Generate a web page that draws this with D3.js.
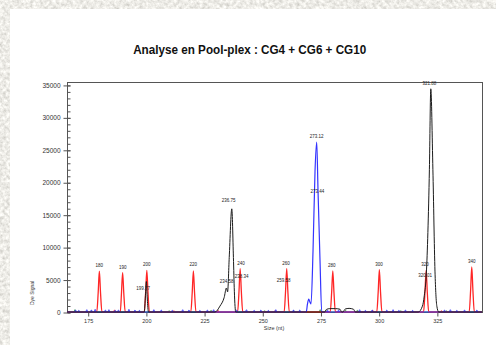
<!DOCTYPE html>
<html>
<head>
<meta charset="utf-8">
<script src="https://cdn.jsdelivr.net/npm/d3@7"></script>
<style>
  html, body { margin: 0; padding: 0; background: #d8d5ce; }
  svg { display: block; font-family: Arial, 'Liberation Sans', sans-serif; }
</style>
</head>
<body>
<div id="chart"></div>
<script>
// Electropherogram: size (nt) vs dye signal, one trace per dye colour
const title = 'Analyse en Pool-plex : CG4 + CG6 + CG10';
const sizeTicks = [175, 200, 225, 250, 275, 300, 325];
const signalTicks = [0, 5000, 10000, 15000, 20000, 25000, 30000, 35000];
const signalMinorTicks = d3.range(0, 35001, 1000);

// [size, signal] points
const redTrace = [
  [166.1, 0],
  [178.9, 0], [179.5, 3000], [180.0, 6280], [180.5, 3000], [181.1, 0],
  [189.0, 0], [189.5, 2900], [190.0, 6080], [190.5, 2900], [191.1, 0],
  [199.3, 0], [199.9, 3100], [200.4, 6430], [200.9, 3000], [201.5, 0],
  [219.3, 0], [219.9, 3000], [220.4, 6330], [220.9, 3000], [221.5, 0],
  [239.4, 0], [240.0, 3200], [240.5, 6700], [241.0, 3200], [241.6, 0],
  [259.4, 0], [260.0, 3200], [260.5, 6700], [261.0, 3100], [261.6, 0],
  [279.2, 0], [279.8, 3000], [280.3, 6330], [280.8, 3000], [281.4, 0],
  [299.2, 0], [299.8, 3100], [300.3, 6540], [300.8, 3100], [301.4, 0],
  [319.3, 0], [319.9, 3100], [320.4, 6430], [320.9, 3000], [321.5, 0],
  [338.9, 0], [339.5, 3300], [340.0, 6950], [340.5, 3300], [341.1, 0],
  [344.4, 0],
];

const blueTrace = [
  [166.1, 0], [268.9, 0], [269.4, 1200], [269.95, 2000], [270.5, 1500],
  [270.94, 1230], [271.8, 9400], [272.66, 21700], [273.39, 26200],
  [273.95, 18650], [274.81, 7860], [275.54, 0], [344.4, 0],
];

const blackTrace = [
  [166.1, 0],
  [199.3, 0], [199.8, 2500], [200.2, 4700], [200.6, 2000], [201.1, 0],
  [229.7, 0], [231.8, 900], [233.6, 2200], [234.6, 3700], [235.1, 3100],
  [235.8, 8400], [236.9, 15900], [237.6, 8400], [238.0, 3200], [238.6, 0],
  [276.8, 0], [277.6, 400], [279.0, 520], [281.5, 520], [283.4, 420], [284.1, 0],
  [284.6, 0], [285.6, 450], [287.3, 560], [289.2, 420], [290.0, 0],
  [317.0, 0], [318.8, 900], [319.6, 2500], [320.5, 6000], [321.8, 22000],
  [322.4, 34400], [323.3, 22000], [324.2, 6300], [325.0, 900], [325.8, 0],
  [344.4, 0],
];

// small baseline blips: [size, signal]
const blueNoise = [
  [169.8, 300], [171.2, 250], [174.6, 350], [176.6, 300], [178.2, 400],
  [182.6, 300], [184.1, 350], [186.8, 250], [188.2, 300], [192.7, 400],
  [195.3, 300], [197.2, 250], [203.4, 350], [206.6, 300], [211.3, 250],
  [215.8, 350], [218.5, 300], [223.2, 250], [226.4, 300], [229.1, 350],
  [239.0, 300], [243.2, 350], [246.5, 250], [249.4, 300], [252.6, 250],
  [255.8, 350], [263.4, 300], [266.1, 300], [278.1, 250], [282.8, 300],
  [291.8, 350], [294.3, 250], [297.2, 300], [303.5, 300], [306.2, 350],
  [308.7, 250], [311.5, 300], [314.6, 250], [328.3, 300], [330.8, 350],
  [333.6, 250], [336.9, 300], [342.2, 300],
];
const redNoise = [
  [186.5, 300], [212.0, 200], [231.0, 250], [255.5, 200], [297.5, 250], [327.0, 200],
];
const greenNoise = [
  [169.5, 350], [176.5, 200], [210.0, 200], [228.0, 250], [251.0, 200],
  [263.5, 200], [274.9, 350], [277.3, 250], [285.8, 250], [290.8, 250],
  [309.5, 200], [329.0, 200],
];

// peak labels: [text, size, signal] (label centre)
const peakLabels = [
  ['180', 179.98, 7200], ['190', 190.04, 6940], ['200', 200.35, 7310],
  ['199.77', 198.76, 3660], ['220', 220.37, 7310], ['234.58', 234.72, 4740],
  ['236.75', 235.58, 17240], ['240', 240.87, 7470], ['238.34', 241.17, 5510],
  ['260', 260.2, 7470], ['259.58', 259.21, 4890], ['273.12', 273.39, 27110],
  ['273.44', 273.65, 18520], ['280', 279.83, 7210], ['300', 300.16, 7310],
  ['320', 319.92, 7310], ['320.01', 319.92, 5660], ['321.88', 321.77, 35250],
  ['340', 339.98, 7820],
];

const width = 496;
const height = 345;
const plot = { left: 67, right: 482, top: 82, bottom: 312 };

const svg = d3.select('#chart')
  .append('svg')
  .attr('width', width)
  .attr('height', height);

// textured page background
const defs = svg.append('defs');
const grain = defs.append('filter').attr('id', 'grain')
  .attr('x', 0).attr('y', 0).attr('width', 1).attr('height', 1);
grain.append('feTurbulence')
  .attr('type', 'fractalNoise')
  .attr('baseFrequency', 0.3)
  .attr('numOctaves', 3)
  .attr('seed', 7);
grain.append('feColorMatrix')
  .attr('type', 'matrix')
  .attr('values', '0.6 0 0 0 0.55  0.6 0 0 0 0.54  0.6 0 0 0 0.50  0 0 0 0 1');

svg.append('rect')
  .attr('width', width).attr('height', height)
  .attr('filter', 'url(#grain)');

svg.append('rect')
  .attr('x', 10).attr('y', 9)
  .attr('width', width - 10).attr('height', height - 9)
  .attr('fill', '#fff');

const x = d3.scaleLinear()
  .domain([166.1, 344.4])
  .range([plot.left, plot.right]);

const y = d3.scaleLinear()
  .domain([0, 35450])
  .range([plot.bottom, plot.top]);

svg.append('text')
  .attr('x', 249.7)
  .attr('y', 54)
  .attr('text-anchor', 'middle')
  .attr('font-size', 12.5)
  .attr('font-weight', 'bold')
  .attr('textLength', 233)
  .attr('lengthAdjust', 'spacingAndGlyphs')
  .attr('fill', '#111')
  .text(title);

// frame
svg.append('rect')
  .attr('x', plot.left + 0.5)
  .attr('y', plot.top + 0.5)
  .attr('width', plot.right - plot.left)
  .attr('height', plot.bottom - plot.top)
  .attr('fill', 'none')
  .attr('stroke', '#555');

// Axis: minor then major
svg.append('g')
  .attr('transform', `translate(${plot.left + 0.5},0.5)`)
  .call(d3.axisRight(y).tickValues(signalMinorTicks).tickSize(3).tickFormat(''))
  .call(g => g.select('.domain').remove())
  .call(g => g.selectAll('.tick line').attr('stroke', '#555'));

svg.append('g')
  .attr('transform', `translate(${plot.left + 0.5},0.5)`)
  .call(d3.axisLeft(y).tickValues(signalTicks).tickSize(4).tickPadding(3)
    .tickFormat(d3.format('d')))
  .call(g => g.select('.domain').remove())
  .call(g => g.selectAll('.tick line').attr('stroke', '#555').attr('x2', 3).attr('x1', -4))
  .call(g => g.selectAll('.tick text')
    .attr('font-size', 6.5)
    .attr('font-family', 'Arial, "Liberation Sans", sans-serif')
    .attr('fill', '#333'));

svg.append('g')
  .attr('transform', `translate(0.5,${plot.bottom + 0.5})`)
  .call(d3.axisBottom(x).tickValues(sizeTicks).tickSize(4).tickPadding(3))
  .call(g => g.select('.domain').remove())
  .call(g => g.selectAll('.tick line').attr('stroke', '#555'))
  .call(g => g.selectAll('.tick text')
    .attr('font-size', 5.5)
    .attr('font-family', 'Arial, "Liberation Sans", sans-serif')
    .attr('fill', '#333'));

svg.append('text')
  .attr('x', 274)
  .attr('y', 330)
  .attr('text-anchor', 'middle')
  .attr('font-size', 5.5)
  .attr('fill', '#333')
  .text('Size (nt)');

svg.append('text')
  .attr('transform', 'translate(33.5,293) rotate(-90)')
  .attr('text-anchor', 'middle')
  .attr('font-size', 5)
  .attr('fill', '#333')
  .text('Dye Signal');

// Traces
const line = d3.line()
  .x(d => x(d[0]))
  .y(d => y(d[1]))
  .curve(d3.curveMonotoneX);

const blip = d => line([[d[0] - 0.35, 0], [d[0], d[1]], [d[0] + 0.35, 0]]);

const traces = svg.append('g').attr('fill', 'none').attr('stroke-linejoin', 'round');

traces.append('path')
  .attr('d', line([[166.1, 0], [344.4, 0]]))
  .attr('stroke', '#2a9a2a').attr('stroke-width', 1);

traces.selectAll('path.green')
  .data(greenNoise)
  .enter().append('path')
    .attr('class', 'green')
    .attr('d', blip)
    .attr('stroke', '#2a9a2a');

traces.append('path')
  .attr('d', line(redTrace))
  .attr('stroke', '#ff2626').attr('stroke-width', 1.3);

traces.selectAll('path.red')
  .data(redNoise)
  .enter().append('path')
    .attr('class', 'red')
    .attr('d', blip)
    .attr('stroke', '#ff2626');

traces.append('path')
  .attr('d', line(blueTrace))
  .attr('stroke', '#3434ff').attr('stroke-width', 1.2);

traces.selectAll('path.blue')
  .data(blueNoise)
  .enter().append('path')
    .attr('class', 'blue')
    .attr('d', blip)
    .attr('stroke', '#3434ff');

traces.append('path')
  .attr('d', line(blackTrace))
  .attr('stroke', '#1c1c1c').attr('stroke-width', 1);

// Peak labels
svg.append('g')
  .attr('font-size', 4.5)
  .attr('fill', '#222')
  .attr('text-anchor', 'middle')
  .selectAll('text')
  .data(peakLabels)
  .enter().append('text')
    .attr('x', d => x(d[1]))
    .attr('y', d => y(d[2]))
    .attr('dy', '0.35em')
    .text(d => d[0]);
</script>
</body>
</html>
